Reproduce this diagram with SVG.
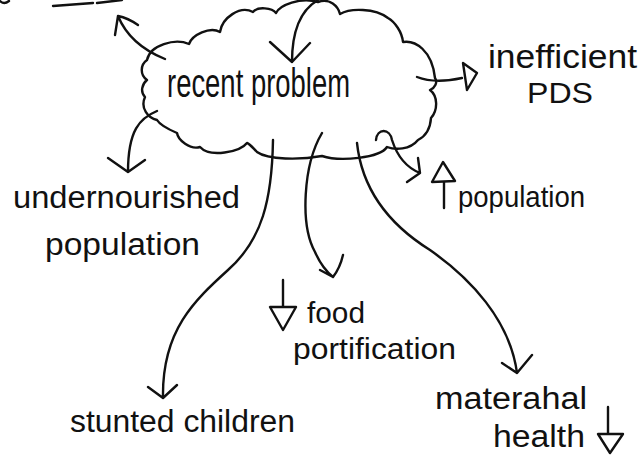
<svg xmlns="http://www.w3.org/2000/svg" width="644" height="460" viewBox="0 0 644 460">
<style>
.ln{fill:none;stroke:#111;stroke-width:2.4;stroke-linecap:round;stroke-linejoin:round}
.tri{fill:#fff;stroke:#111;stroke-width:2.4;stroke-linejoin:round}
.t{font-family:"Liberation Sans","DejaVu Sans",sans-serif;fill:#111}
</style>
<rect width="644" height="460" fill="#fff"/>
<g id="title-fragment">
<path class="ln" d="M0,1 Q4,5 9,1 M53,6 L93,3 M97,3 L122,0"/>
</g>
<g id="node-recent-problem">
<path class="ln" d="M147,60 C150,45 175,38 189,44 C192,35 210,26 220,32 C222,18 240,5 253,12 C258,6 272,8 276,13 C280,5 300,-3 318,2 C330,-2 338,6 340,14 C350,8 375,8 388,18 C395,22 402,32 403,42 C415,40 432,50 435,78 C438,82 435,88 430,90 C438,96 438,110 431,118 C430,133 422,138 418,140 C410,150 395,150 387,147 C380,158 340,162 322,156 C300,160 268,160 257,152 C253,148 250,144 247,143 C240,152 210,158 200,147 C190,150 178,140 177,133 C170,130 160,125 157,120 C148,118 140,108 145,97 C140,92 142,84 147,80 C140,75 140,65 147,60 Z"/>
<text class="t" x="167" y="97" font-size="40" textLength="183" lengthAdjust="spacingAndGlyphs">recent problem</text>
</g>
<g id="node-inefficient-pds">
<text class="t" x="488" y="68" font-size="34" textLength="149" lengthAdjust="spacingAndGlyphs">inefficient</text>
<text class="t" x="527" y="103" font-size="29" textLength="66" lengthAdjust="spacingAndGlyphs">PDS</text>
</g>
<g id="node-undernourished">
<text class="t" x="13" y="208" font-size="31" textLength="227" lengthAdjust="spacingAndGlyphs">undernourished</text>
<text class="t" x="45" y="255" font-size="31" textLength="155" lengthAdjust="spacingAndGlyphs">population</text>
</g>
<g id="node-population-up">
<path class="ln" d="M444,181 L444,208"/>
<path class="tri" d="M443,162 L455,181 L432,182 Z"/>
<text class="t" x="458" y="207" font-size="29" textLength="127" lengthAdjust="spacingAndGlyphs">population</text>
</g>
<g id="node-food-fortification">
<path class="ln" d="M283,280 L283,307"/>
<path class="tri" d="M270,307 L296,307 L283,330 Z"/>
<text class="t" x="307" y="323" font-size="29" textLength="58" lengthAdjust="spacingAndGlyphs">food</text>
<text class="t" x="293" y="359" font-size="29" textLength="163" lengthAdjust="spacingAndGlyphs">portification</text>
</g>
<g id="node-stunted-children">
<text class="t" x="70" y="432" font-size="31" textLength="225" lengthAdjust="spacingAndGlyphs">stunted children</text>
</g>
<g id="node-maternal-health">
<text class="t" x="435" y="409" font-size="31" textLength="152" lengthAdjust="spacingAndGlyphs">materahal</text>
<text class="t" x="493" y="447" font-size="31" textLength="92" lengthAdjust="spacingAndGlyphs">health</text>
<path class="ln" d="M608,407 L608,434"/>
<path class="tri" d="M598,434 L623,434 L610,453 Z"/>
</g>
<g id="connectors">
<path class="ln" d="M165,59 Q130,45 118,16 M115,35 L118,16 Q128,18 138,25"/>
<path class="ln" d="M318,0 Q292,15 292,62 M270,42 L292,62 L310,43"/>
<path class="ln" d="M417,77 Q435,84 462,78"/>
<path class="tri" d="M463,63 L477,73 L467,90 Z"/>
<path class="ln" d="M157,111 C140,118 128,130 128,172 M108,158 L128,172 L145,160"/>
<path class="ln" d="M273,140 C272,200 262,240 228,270 C195,300 162,330 163,397 M148,387 L163,398 L177,385"/>
<path class="ln" d="M322,133 C303,165 300,225 315,252 Q322,268 333,277 M343,255 Q340,268 333,277 L320,270"/>
<path class="ln" d="M376,140 C377,128 390,128 392,140 Q400,165 420,173 M418,158 L420,173 L407,182"/>
<path class="ln" d="M357,143 C362,190 390,225 430,250 C470,278 510,320 517,373 M502,363 L517,373 L532,355"/>
</g>
</svg>
